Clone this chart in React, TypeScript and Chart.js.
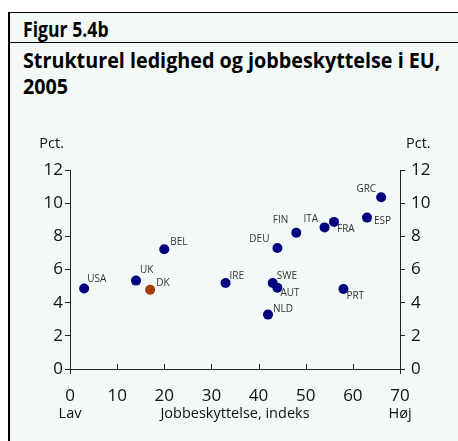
import React, { useEffect, useRef } from "react";
import { Chart, registerables } from "chart.js";

Chart.register(...registerables);

const countries = ["USA", "UK", "DK", "BEL", "IRE", "SWE", "AUT", "NLD", "DEU", "FIN", "ITA", "FRA", "PRT", "ESP", "GRC"];
const jobProtection = [3, 14, 17, 20, 33, 43, 44, 42, 44, 48, 54, 56, 58, 63, 66];
const unemployment = [4.85, 5.33, 4.78, 7.22, 5.19, 5.19, 4.9, 3.28, 7.3, 8.22, 8.54, 8.87, 4.82, 9.13, 10.36];
const xTicks = [0, 10, 20, 30, 40, 50, 60, 70];
const yTicks = [0, 2, 4, 6, 8, 10, 12];
const highlight = "DK";

// label placement (style): [dx, dy, align]
const labelPlacement: [number, number, CanvasTextAlign][] = [
  [3, -9, "left"],
  [4, -10.5, "left"],
  [6, -7, "left"],
  [6, -7, "left"],
  [4, -7, "left"],
  [4, -7, "left"],
  [3, 5, "left"],
  [5, -5, "left"],
  [-8, -9, "right"],
  [-8, -13, "right"],
  [-6.5, -8, "right"],
  [3, 7, "left"],
  [3, 7, "left"],
  [7, 4, "left"],
  [-5, -8, "right"],
];

const FONT = "'Open Sans', 'DejaVu Sans', sans-serif";
const NAVY = "#00007f";
const RUST = "#a83a0c";
const AXIS = "#222";

export default function App() {
  const ref = useRef<HTMLCanvasElement | null>(null);

  useEffect(() => {
    document.body.style.margin = "0";
    if (!ref.current) return;

    const extras = {
      id: "extras",
      afterDraw(chart: any) {
        const ctx = chart.ctx as CanvasRenderingContext2D;
        const { left, right, top, bottom } = chart.chartArea;
        const xs = chart.scales.x;
        ctx.save();
        ctx.strokeStyle = AXIS;
        ctx.lineWidth = 1;
        // inward x ticks
        xTicks.forEach((v) => {
          const px = Math.round(xs.getPixelForValue(v)) + 0.5;
          ctx.beginPath();
          if (v === xTicks[0] || v === xTicks[xTicks.length - 1]) {
            ctx.moveTo(px, bottom);
            ctx.lineTo(px, bottom + 5);
          } else {
            ctx.moveTo(px, bottom);
            ctx.lineTo(px, bottom - 5);
          }
          ctx.stroke();
        });
        ctx.fillStyle = "#111";
        ctx.textBaseline = "middle";
        ctx.font = `14.5px ${FONT}`;
        ctx.textAlign = "right";
        ctx.fillText("Pct.", left - 6, top - 26);
        ctx.textAlign = "left";
        ctx.fillText("Pct.", right + 6, top - 26);
        const ly = bottom + 45;
        ctx.textAlign = "center";
        ctx.fillText("Lav", xs.getPixelForValue(0), ly);
        ctx.fillText("Høj", xs.getPixelForValue(70), ly);
        ctx.fillText("Jobbeskyttelse, indeks", (left + right) / 2, ly);

        // point labels
        const meta = chart.getDatasetMeta(0);
        ctx.font = `10px ${FONT}`;
        ctx.fillStyle = "#333";
        meta.data.forEach((el: any, i: number) => {
          const [dx, dy, align] = labelPlacement[i];
          ctx.textAlign = align;
          ctx.fillText(countries[i], el.x + dx, el.y + dy);
        });
        ctx.restore();
      },
    };

    const yScale = (position: "left" | "right", width: number) => ({
      type: "linear" as const,
      position,
      min: 0,
      max: 12,
      afterBuildTicks: (s: any) => {
        s.ticks = yTicks.map((v) => ({ value: v }));
      },
      afterFit: (s: any) => {
        s.width = width;
      },
      ticks: {
        color: "#111",
        font: { family: FONT, size: 17 },
        padding: position === "left" ? 2 : 6,
      },
      grid: { drawOnChartArea: false, drawTicks: true, tickLength: 5, color: AXIS },
      border: { display: true, color: AXIS, width: 1 },
    });

    const chart = new Chart(ref.current, {
      type: "scatter",
      data: {
        datasets: [
          {
            data: jobProtection.map((x, i) => ({ x, y: unemployment[i] })),
            backgroundColor: countries.map((c) => (c === highlight ? RUST : NAVY)),
            borderWidth: 0,
            pointRadius: 5,
          },
        ],
      },
      options: {
        animation: false,
        responsive: false,
        maintainAspectRatio: false,
        layout: { padding: { top: 60, left: 0, right: 0, bottom: 0 } },
        plugins: { legend: { display: false }, tooltip: { enabled: false } },
        scales: {
          x: {
            type: "linear",
            min: 0,
            max: 70,
            afterBuildTicks: (s: any) => {
              s.ticks = xTicks.map((v) => ({ value: v }));
            },
            afterFit: (s: any) => {
              s.height = 72;
            },
            ticks: { color: "#111", font: { family: FONT, size: 17 }, padding: 17 },
            grid: { drawOnChartArea: false, drawTicks: false, color: AXIS },
            border: { display: true, color: AXIS, width: 1 },
          },
          y: yScale("left", 70),
          y2: yScale("right", 58),
        },
      } as any,
      plugins: [extras],
    });
    return () => chart.destroy();
  }, []);

  const titleStyle: React.CSSProperties = {
    position: "absolute",
    left: 23,
    fontFamily: FONT,
    fontWeight: 700,
    fontSize: 21,
    lineHeight: "26px",
    color: "#000",
    whiteSpace: "nowrap",
    transformOrigin: "left top",
  };

  return (
    <div style={{ position: "relative", width: 458, height: 441, background: "#fff", overflow: "hidden" }}>
      <div
        style={{
          position: "absolute",
          left: 8,
          top: 12,
          width: 450,
          height: 429,
          background: "#f2f9f7",
          borderLeft: "2px solid #000",
          borderTop: "1px solid #000",
        }}
      />
      <div style={{ position: "absolute", left: 10, top: 42, width: 448, height: 1, background: "#000" }} />
      <div style={{ ...titleStyle, top: 16, transform: "scaleX(0.84)" }}>Figur 5.4b</div>
      <div style={{ ...titleStyle, top: 47, transform: "scaleX(0.94)" }}>
        Strukturel ledighed og jobbeskyttelse i EU,
        <br />
        2005
      </div>
      <canvas
        ref={ref}
        width={458}
        height={331}
        style={{ position: "absolute", left: 0, top: 110, width: 458, height: 331 }}
      />
    </div>
  );
}
